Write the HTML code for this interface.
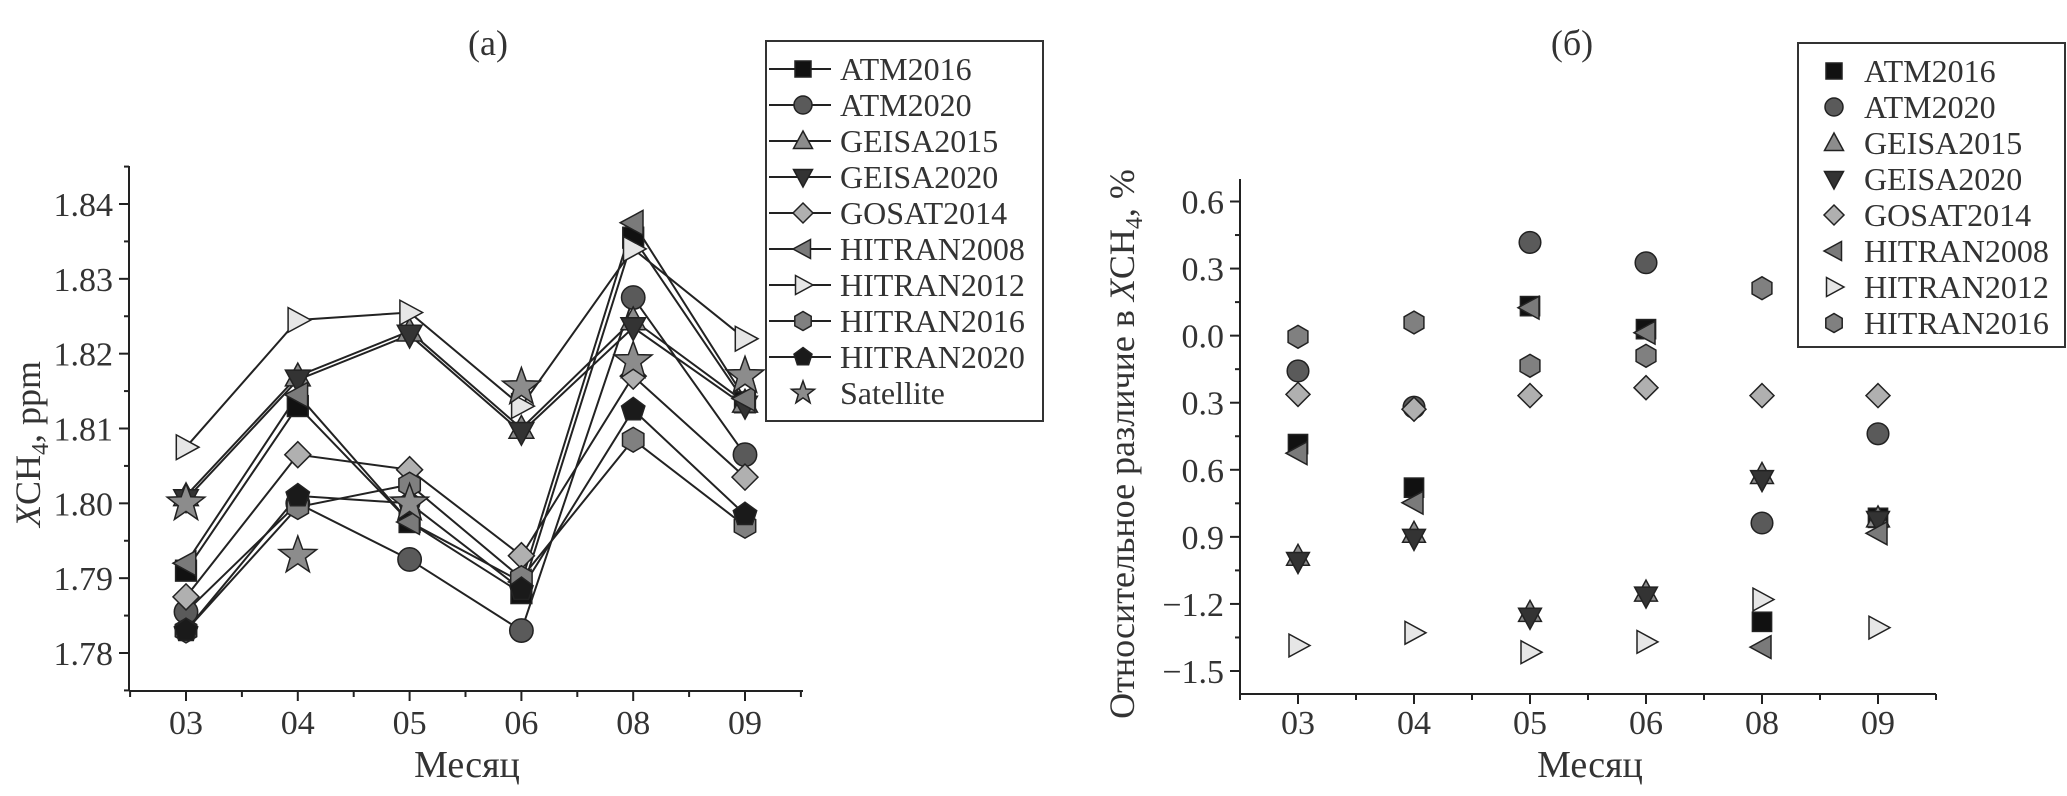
<!DOCTYPE html>
<html><head><meta charset="utf-8">
<style>
html,body{margin:0;padding:0;background:#fff;}
svg{display:block;font-family:"Liberation Serif",serif;}
</style></head>
<body>
<svg id="chart" width="2067" height="796" viewBox="0 0 2067 796" xmlns="http://www.w3.org/2000/svg"></svg>
<script>
const months = ["03","04","05","06","08","09"];
const seriesNames = ["ATM2016","ATM2020","GEISA2015","GEISA2020","GOSAT2014","HITRAN2008","HITRAN2012","HITRAN2016","HITRAN2020","Satellite"];
const aATM2016 = [1.791,1.813,1.7975,1.788,1.8355,1.8135];
const aATM2020 = [1.7855,1.800,1.7925,1.783,1.8275,1.8065];
const aGEISA2015 = [1.801,1.817,1.823,1.810,1.8245,1.8135];
const aGEISA2020 = [1.8005,1.8165,1.8225,1.8095,1.8235,1.813];
const aGOSAT2014 = [1.7875,1.8065,1.8045,1.793,1.817,1.8035];
const aHITRAN2008 = [1.792,1.8145,1.7975,1.7895,1.8375,1.814];
const aHITRAN2012 = [1.8075,1.8245,1.8255,1.813,1.834,1.822];
const aHITRAN2016 = [1.783,1.7995,1.8025,1.790,1.8085,1.797];
const aHITRAN2020 = [1.783,1.801,1.800,1.7885,1.8125,1.7985];
const aSatellite = [1.800,1.793,1.800,1.8155,1.819,1.817];
const aTicks = [1.78,1.79,1.80,1.81,1.82,1.83,1.84];
const aTickLabels = ["1.78","1.79","1.80","1.81","1.82","1.83","1.84"];
const bATM2016 = [-0.485,-0.68,0.132,0.029,-1.28,-0.815];
const bATM2020 = [-0.158,-0.32,0.417,0.326,-0.838,-0.439];
const bGEISA2015 = [-0.987,-0.884,-1.238,-1.147,-0.621,-0.815];
const bGEISA2020 = [-1.01,-0.907,-1.26,-1.165,-0.644,-0.827];
const bGOSAT2014 = [-0.263,-0.329,-0.268,-0.233,-0.268,-0.268];
const bHITRAN2008 = [-0.526,-0.747,0.125,0.013,-1.393,-0.884];
const bHITRAN2012 = [-1.386,-1.329,-1.416,-1.37,-1.18,-1.306];
const bHITRAN2016 = [-0.005,0.059,-0.135,-0.09,0.212,null];
const bTicks = [0.6,0.3,0.0,-0.3,-0.6,-0.9,-1.2,-1.5];
const bTickLabels = ["0.6","0.3","0.0","0.3","0.6","0.9","\u22121.2","\u22121.5"];

const NS="http://www.w3.org/2000/svg";
const svg=document.getElementById('chart');
function mk(tag,attrs,parent){const e=document.createElementNS(NS,tag);for(const k in attrs)e.setAttribute(k,attrs[k]);(parent||svg).appendChild(e);return e;}

const styles={
ATM2016:{shape:'square',fill:'#111'},ATM2020:{shape:'circle',fill:'#5a5a5a'},
GEISA2015:{shape:'up',fill:'#8c8c8c'},GEISA2020:{shape:'down',fill:'#333'},
GOSAT2014:{shape:'diamond',fill:'#b0b0b0'},HITRAN2008:{shape:'left',fill:'#7a7a7a'},
HITRAN2012:{shape:'right',fill:'#e6e6e6'},HITRAN2016:{shape:'hex',fill:'#808080'},
HITRAN2020:{shape:'pent',fill:'#1a1a1a'},Satellite:{shape:'star',fill:'#8c8c8c'}};

function marker(g,shape,cx,cy,r,fill){
  let pts=null;
  const poly=(arr)=>arr.map(p=>(cx+p[0]*r).toFixed(1)+','+(cy+p[1]*r).toFixed(1)).join(' ');
  if(shape==='square') return mk('rect',{x:cx-r*0.8,y:cy-r*0.8,width:r*1.6,height:r*1.6,fill:fill,stroke:'#222','stroke-width':1.5},g);
  if(shape==='circle') return mk('circle',{cx:cx,cy:cy,r:r*0.9,fill:fill,stroke:'#222','stroke-width':1.5},g);
  if(shape==='up') pts=[[0,-1],[0.95,0.75],[-0.95,0.75]];
  if(shape==='down') pts=[[0,1],[0.95,-0.75],[-0.95,-0.75]];
  if(shape==='left') pts=[[-1,0],[0.75,-0.95],[0.75,0.95]];
  if(shape==='right') pts=[[1,0],[-0.75,-0.95],[-0.75,0.95]];
  if(shape==='diamond') pts=[[0,-1],[1,0],[0,1],[-1,0]];
  if(shape==='hex'){pts=[];for(let i=0;i<6;i++){const a=Math.PI/3*i+Math.PI/6;pts.push([Math.cos(a)*0.95,Math.sin(a)*0.95]);}}
  if(shape==='pent'){pts=[];for(let i=0;i<5;i++){const a=-Math.PI/2+2*Math.PI/5*i;pts.push([Math.cos(a)*0.95,Math.sin(a)*0.95]);}}
  if(shape==='star'){pts=[];for(let i=0;i<10;i++){const a=-Math.PI/2+Math.PI/5*i;const rr=i%2?0.45:1.1;pts.push([Math.cos(a)*rr,Math.sin(a)*rr]);}}
  return mk('polygon',{points:poly(pts),fill:fill,stroke:'#222','stroke-width':1.5},g);
}
function text(str,attrs,parent){const t=mk('text',attrs,parent);t.textContent=str;return t;}

// ---------- Panel a ----------
const A={x0:129,x1:803,yTop:166,yBot:691};
const ax=i=>186+i*((745-186)/5);
const ay=v=>204+(1.84-v)/0.06*(653-204);
const ga=mk('g',{});


const axA=mk('g',{stroke:'#222','stroke-width':2},ga);

mk('line',{x1:A.x0,y1:A.yTop,x2:A.x0,y2:A.yBot},axA);
mk('line',{x1:A.x0,y1:A.yBot,x2:A.x1,y2:A.yBot},axA);
aTicks.forEach((v,i)=>{
  const y=ay(v);mk('line',{x1:A.x0-10,y1:y,x2:A.x0,y2:y},axA);
  const ym=ay(v+0.005);if(ym>A.yTop)mk('line',{x1:A.x0-5,y1:ym,x2:A.x0,y2:ym},axA);
  const t=text(aTickLabels[i],{x:A.x0-16,y:y+12,'font-size':34,'text-anchor':'end',fill:'#333'},ga);
  
});
const aym=ay(1.775);if(aym<A.yBot)mk('line',{x1:A.x0-5,y1:aym,x2:A.x0,y2:aym},axA);
for(let i=-0.5;i<=5.5;i+=0.5){const x=ax(i);if(x<A.x0||x>A.x1)continue;mk('line',{x1:x,y1:A.yBot,x2:x,y2:A.yBot+(Number.isInteger(i)?10:6)},axA);}
months.forEach((m,i)=>{const t=text(m,{x:ax(i),y:734,'font-size':34,'text-anchor':'middle',fill:'#333'},ga);
});
let t=text('Месяц',{x:467,y:777,'font-size':38,'text-anchor':'middle',fill:'#333'},ga);

t=text('(a)',{x:488,y:55,'font-size':36,'text-anchor':'middle',fill:'#333'},ga);

t=mk('text',{x:0,y:0,'font-size':36,'text-anchor':'middle',fill:'#333',transform:'translate(40,444) rotate(-90)'},ga);
t.innerHTML='<tspan font-style="italic">X</tspan>CH<tspan font-size="24" dy="8">4</tspan><tspan dy="-8">, ppm</tspan>';


const aData=[aATM2016,aATM2020,aGEISA2015,aGEISA2020,aGOSAT2014,aHITRAN2008,aHITRAN2012,aHITRAN2016,aHITRAN2020,aSatellite];
aData.forEach((arr,k)=>{
  if(seriesNames[k]==='Satellite')return;
  const p=mk('polyline',{points:arr.map((v,i)=>ax(i)+','+ay(v)).join(' '),fill:'none',stroke:'#222','stroke-width':2},ga);
  
  
});
aData.forEach((arr,k)=>{
  const st=styles[seriesNames[k]];
  arr.forEach((v,i)=>{
    const m=marker(ga,st.shape,ax(i),ay(v),st.shape==='star'?18:13,st.fill);
    
    
  });
});
const la=mk('g',{},ga);

mk('rect',{x:766,y:41,width:277,height:380,fill:'#fff',stroke:'#333','stroke-width':2},la);
seriesNames.forEach((n,k)=>{
  const y=69+k*36;const st=styles[n];
  const e=mk('g',{},la);
  
  if(n!=='Satellite')mk('line',{x1:769,y1:y,x2:831,y2:y,stroke:'#222','stroke-width':2},e);
  marker(e,st.shape,803,y,st.shape==='star'?11:10,st.fill);
  text(n,{x:840,y:y+11,'font-size':32,fill:'#333'},e);
});

// ---------- Panel b ----------
const B={x0:1240,x1:1936,yTop:179,yBot:694};
const bx=i=>1298+i*((1878-1298)/5);
const by=v=>201.5+(0.6-v)/2.1*(671-201.5);
const gb=mk('g',{});

const axB=mk('g',{stroke:'#222','stroke-width':2},gb);

mk('line',{x1:B.x0,y1:B.yTop,x2:B.x0,y2:B.yBot},axB);
mk('line',{x1:B.x0,y1:B.yBot,x2:B.x1,y2:B.yBot},axB);
bTicks.forEach((v,i)=>{
  const y=by(v);mk('line',{x1:B.x0-10,y1:y,x2:B.x0,y2:y},axB);
  const ym=by(v+0.15);if(ym>B.yTop)mk('line',{x1:B.x0-5,y1:ym,x2:B.x0,y2:ym},axB);
  const tt=text(bTickLabels[i],{x:B.x0-16,y:y+12,'font-size':34,'text-anchor':'end',fill:'#333'},gb);
  
});
for(let i=-0.5;i<=5.5;i+=0.5){const x=bx(i);if(x<B.x0||x>B.x1)continue;mk('line',{x1:x,y1:B.yBot,x2:x,y2:B.yBot+(Number.isInteger(i)?10:6)},axB);}
months.forEach((m,i)=>{const tt=text(m,{x:bx(i),y:734,'font-size':34,'text-anchor':'middle',fill:'#333'},gb);
});
t=text('Месяц',{x:1590,y:777,'font-size':38,'text-anchor':'middle',fill:'#333'},gb);

t=text('(б)',{x:1572,y:55,'font-size':36,'text-anchor':'middle',fill:'#333'},gb);

t=mk('text',{x:0,y:0,'font-size':36,'text-anchor':'middle',fill:'#333',transform:'translate(1134,444) rotate(-90)'},gb);
t.innerHTML='Относительное различие в <tspan font-style="italic">X</tspan>CH<tspan font-size="24" dy="8">4</tspan><tspan dy="-8">, %</tspan>';


const bData=[bATM2016,bATM2020,bGEISA2015,bGEISA2020,bGOSAT2014,bHITRAN2008,bHITRAN2012,bHITRAN2016];
bData.forEach((arr,k)=>{
  const st=styles[seriesNames[k]];
  arr.forEach((v,i)=>{
    if(v===null)return;
    const m=marker(gb,st.shape,bx(i),by(v),12,st.fill);
    
    
  });
});
const lb=mk('g',{},gb);

mk('rect',{x:1798,y:43,width:267,height:304,fill:'#fff',stroke:'#333','stroke-width':2},lb);
seriesNames.slice(0,8).forEach((n,k)=>{
  const y=71+k*36;const st=styles[n];
  const e=mk('g',{},lb);
  
  marker(e,st.shape,1834,y,10,st.fill);
  text(n,{x:1864,y:y+11,'font-size':32,fill:'#333'},e);
});
</script>
</body></html>
